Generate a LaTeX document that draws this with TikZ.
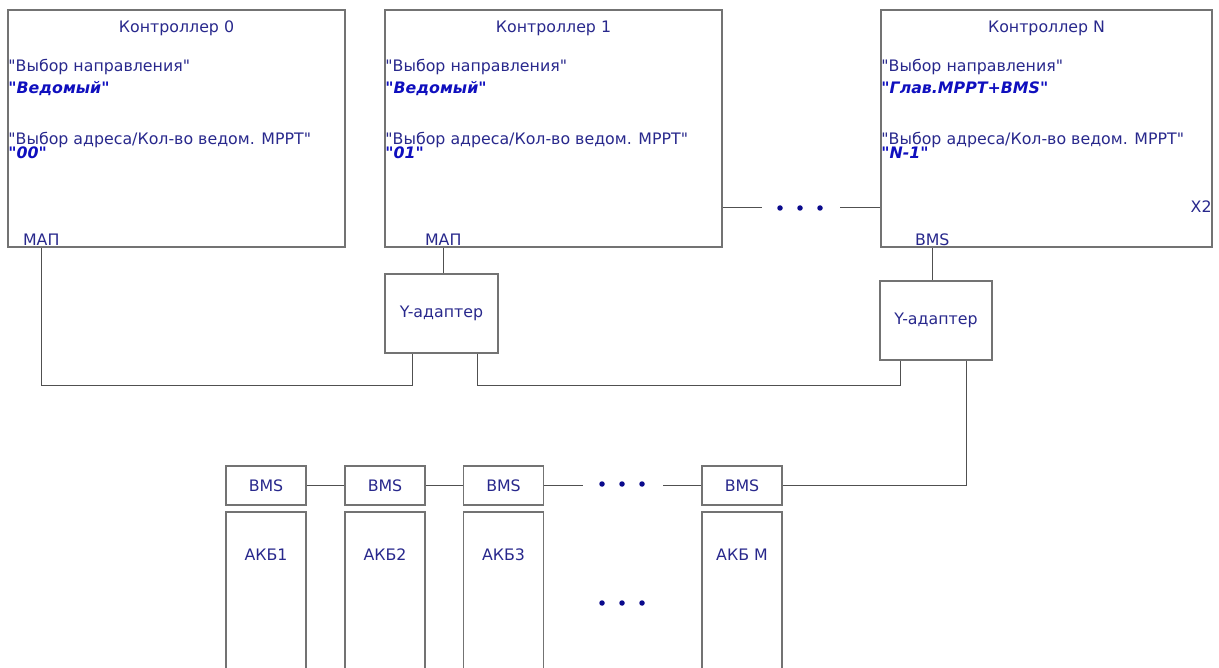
\documentclass[tikz,border=0pt]{standalone}
\usepackage{fontspec}
\setmainfont{DejaVu Sans}[Ligatures=TeXOff]
\usetikzlibrary{positioning,calc}
\definecolor{LabelBlue}{RGB}{40,40,140}
\definecolor{ValueBlue}{RGB}{15,15,190}
\definecolor{BoxGray}{RGB}{115,115,115}
\definecolor{WireGray}{RGB}{80,80,80}
\definecolor{DotBlue}{RGB}{10,10,140}

\begin{document}
\begin{tikzpicture}[x=1pt,y=-1pt,
    box/.style={draw=BoxGray, line width=1.5pt, inner sep=0pt},
    lbl/.style={text=LabelBlue, font=\fontsize{15.8}{18}\selectfont, inner sep=0pt},
    val/.style={text=ValueBlue, font=\fontsize{15.8}{18}\selectfont\bfseries\itshape, inner sep=0pt},
    wire/.style={draw=WireGray, line width=1pt},
    dot/.style={circle, fill=DotBlue, inner sep=0pt, minimum size=5.5pt}]
    \clip (0,0) rectangle (1219,668);

    % Controllers
    \node[box, minimum width=337, minimum height=237] (c0) at (176.5,128.5) {};
    \node[box, minimum width=337, minimum height=237] (c1) at (553.5,128.5) {};
    \node[box, minimum width=331, minimum height=237] (cN) at (1046.5,128.5) {};

    \node[lbl, anchor=base] at ($(c0.north)+(0,23)$) {Контроллер 0};
    \node[lbl, anchor=base west] at ($(c0.north west)+(1,62)$) {"Выбор направления"};
    \node[val, anchor=base west] at ($(c0.north west)+(1,84)$) {"Ведомый"};
    \node[lbl, anchor=base west] at ($(c0.north west)+(1,135)$) {"Выбор адреса/Кол-во ведом. MPPT"};
    \node[val, anchor=base west] at ($(c0.north west)+(1,149)$) {"00"};
    \node[lbl, anchor=base] (map0) at ($(c0.south west)+(34,-2)$) {МАП};

    \node[lbl, anchor=base] at ($(c1.north)+(0,23)$) {Контроллер 1};
    \node[lbl, anchor=base west] at ($(c1.north west)+(1,62)$) {"Выбор направления"};
    \node[val, anchor=base west] at ($(c1.north west)+(1,84)$) {"Ведомый"};
    \node[lbl, anchor=base west] at ($(c1.north west)+(1,135)$) {"Выбор адреса/Кол-во ведом. MPPT"};
    \node[val, anchor=base west] at ($(c1.north west)+(1,149)$) {"01"};
    \node[lbl, anchor=base] (map1) at ($(c1.south west)+(59,-2)$) {МАП};

    \node[lbl, anchor=base] at ($(cN.north)+(0,23)$) {Контроллер N};
    \node[lbl, anchor=base west] at ($(cN.north west)+(1,62)$) {"Выбор направления"};
    \node[val, anchor=base west] at ($(cN.north west)+(1,84)$) {"Глав.MPPT+BMS"};
    \node[lbl, anchor=base west] at ($(cN.north west)+(1,135)$) {"Выбор адреса/Кол-во ведом. MPPT"};
    \node[val, anchor=base west] at ($(cN.north west)+(1,149)$) {"N-1"};
    \node[lbl, anchor=base east] at ($(cN.north east)+(-1,203)$) {X2};
    \node[lbl, anchor=base] (bmsN) at ($(cN.south west)+(52,-2)$) {BMS};

    % Y-adapters
    \node[box, minimum width=113, minimum height=79, lbl] (ya1) at (441.5,313.5) {Y-адаптер};
    \node[box, minimum width=112, minimum height=79, lbl] (ya2) at (936,320.5) {Y-адаптер};
    \coordinate (ya1l) at ($(ya1.south)+(-29.5,0)$);
    \coordinate (ya1r) at ($(ya1.south)+(35.5,0)$);
    \coordinate (ya2l) at ($(ya2.south)+(-36,0)$);
    \coordinate (ya2r) at ($(ya2.south)+(30,0)$);
    \coordinate (bus) at (0,386);

    % Batteries
    \foreach \i/\x/\name in {1/266/АКБ1, 2/385/АКБ2, 3/503.5/АКБ3, M/742/АКБ M} {
        \node[box, minimum width=80, minimum height=39, lbl] (bms\i) at (\x,485.5) {BMS};
        \node[box, minimum width=80, minimum height=200] (akb\i) at (\x,612) {};
        \node[lbl, anchor=base] at ($(akb\i.north)+(0,49)$) {\name};
    }

    % Dots
    \coordinate (gapA) at (762,208);
    \coordinate (gapB) at (840,208);
    \coordinate (gapC) at (583,485.5);
    \coordinate (gapD) at (663,485.5);
    \foreach \x in {780,800,820} \node[dot] at (\x,208) {};
    \foreach \x in {602,622,642} {
        \node[dot] at (\x,484) {};
        \node[dot] at (\x,603) {};
    }

    % Wires
    \draw[wire] (c1.east |- gapA) -- (gapA);
    \draw[wire] (gapB) -- (cN.west |- gapB);
    \draw[wire] (map1 |- c1.south) -- (map1 |- ya1.north);
    \draw[wire] (bmsN |- cN.south) -- (bmsN |- ya2.north);
    \draw[wire] (map0 |- c0.south) |- (ya1l |- bus) -- (ya1l);
    \draw[wire] (ya1r) |- (ya2l |- bus) -- (ya2l);
    \draw[wire] (ya2r) |- (bmsM.east);
    \draw[wire] (bms1) -- (bms2);
    \draw[wire] (bms2) -- (bms3);
    \draw[wire] (bms3) -- (gapC);
    \draw[wire] (gapD) -- (bmsM);
\end{tikzpicture}
\end{document}
